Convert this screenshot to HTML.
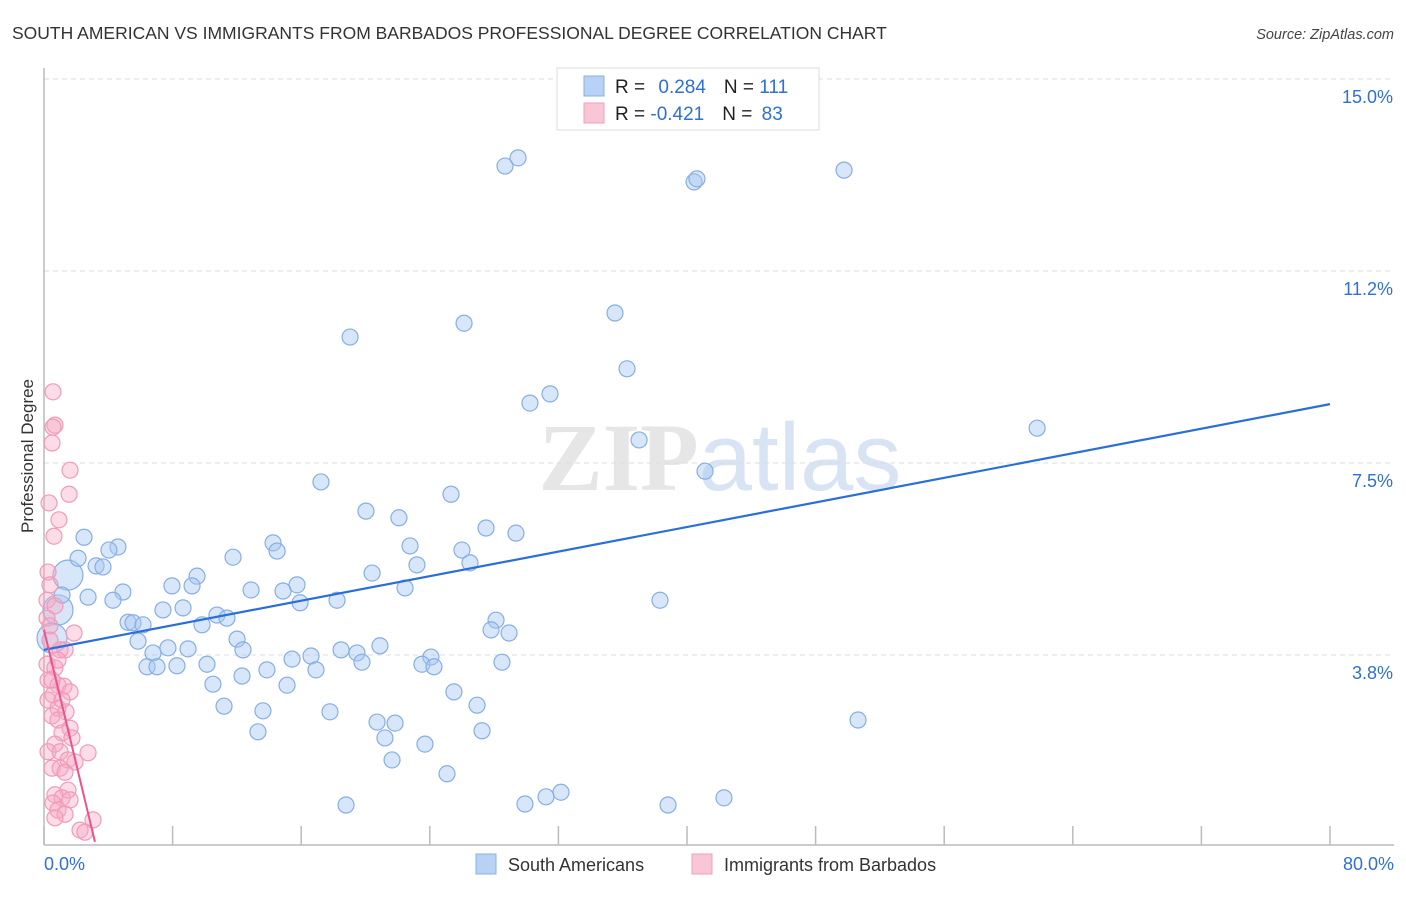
<!DOCTYPE html>
<html><head><meta charset="utf-8"><style>
body{margin:0;background:#fff;font-family:"Liberation Sans",sans-serif;}
svg text{font-family:"Liberation Sans",sans-serif;}
</style></head><body>
<svg id="chart" width="1406" height="892" viewBox="0 0 1406 892" xmlns="http://www.w3.org/2000/svg">
<text x="12" y="39" font-size="17.5" fill="#333">SOUTH AMERICAN VS IMMIGRANTS FROM BARBADOS PROFESSIONAL DEGREE CORRELATION CHART</text>
<text x="1394" y="39" font-size="14.5" fill="#444" text-anchor="end" font-style="italic">Source: ZipAtlas.com</text>
<text x="720" y="490" font-size="96" text-anchor="middle" fill="#e6e6e6"><tspan font-family="Liberation Serif" font-weight="bold">ZIP</tspan><tspan fill="#d8e4f4">atlas</tspan></text>
<g id="grid"></g>
<g id="axes"></g>
<g id="pts"></g>
<g id="trends"></g>
<text transform="translate(33,456) rotate(-90)" font-size="17" fill="#333" text-anchor="middle">Professional Degree</text>
<g>
<rect x="557" y="68" width="262" height="62" fill="#fff" stroke="#ddd"/>
<rect x="584" y="76" width="20" height="20" fill="#b8d2f5" stroke="#88b0e6"/>
<rect x="584" y="103" width="20" height="20" fill="#f9c6d6" stroke="#f0a0bb"/>
<text x="615" y="93" font-size="19" fill="#222">R = <tspan fill="#2f6fd6" dx="8">0.284</tspan><tspan dx="18" fill="#222">N = </tspan><tspan fill="#2f6fd6">111</tspan></text>
<text x="615" y="120" font-size="19" fill="#222">R = <tspan fill="#2f6fd6">-0.421</tspan><tspan dx="18" fill="#222">N = </tspan><tspan fill="#2f6fd6" dx="4">83</tspan></text>
</g>
<g>
<rect x="476" y="854" width="20" height="20" fill="#b8d2f5" stroke="#88b0e6"/>
<text x="508" y="871" font-size="18" fill="#333">South Americans</text>
<rect x="692" y="854" width="20" height="20" fill="#f9c6d6" stroke="#f0a0bb"/>
<text x="724" y="871" font-size="18" fill="#333">Immigrants from Barbados</text>
</g>
</svg>
<script>
const xTickValues=[0,8,16,24,32,40,48,56,64,72,80];
const yTickValues=[3.75,7.5,11.25,15];
const yTickLabels=["3.8%","7.5%","11.2%","15.0%"];
const xEndLabels=["0.0%","80.0%"];
const southAmericans=[[28.68,13.30],[29.49,13.46],[40.44,12.99],[40.62,13.05],[49.77,13.22],[19.04,9.96],[26.13,10.23],[35.52,10.43],[36.27,9.34],[30.23,8.67],[31.48,8.85],[37.02,7.95],[61.78,8.18],[41.12,7.34],[17.23,7.13],[25.32,6.89],[20.03,6.56],[22.08,6.43],[27.50,6.23],[29.36,6.13],[2.49,6.05],[4.60,5.86],[4.04,5.80],[2.12,5.64],[14.25,5.94],[14.50,5.78],[11.76,5.66],[22.77,5.88],[26.00,5.80],[26.50,5.55],[3.24,5.49],[3.67,5.47],[9.52,5.29],[7.96,5.10],[9.21,5.10],[15.74,5.12],[14.87,5.00],[12.88,5.02],[20.41,5.35],[23.20,5.51],[22.46,5.06],[4.91,4.98],[2.74,4.88],[4.29,4.82],[1.12,4.92],[7.40,4.63],[8.65,4.67],[15.93,4.77],[18.23,4.82],[10.76,4.53],[11.38,4.47],[9.83,4.34],[5.23,4.39],[5.54,4.38],[6.16,4.34],[28.12,4.43],[27.81,4.24],[28.93,4.18],[38.32,4.82],[5.85,4.02],[7.71,3.89],[8.96,3.87],[12.01,4.06],[12.38,3.85],[6.78,3.79],[18.48,3.85],[19.47,3.79],[19.78,3.61],[20.90,3.93],[15.43,3.67],[16.61,3.73],[16.92,3.46],[10.14,3.57],[6.41,3.52],[7.03,3.52],[8.27,3.54],[13.87,3.46],[12.32,3.34],[24.07,3.71],[23.51,3.57],[24.26,3.52],[28.49,3.61],[10.51,3.18],[15.12,3.16],[25.50,3.03],[11.20,2.75],[13.62,2.66],[17.79,2.64],[26.94,2.77],[20.72,2.44],[21.84,2.42],[27.25,2.27],[13.31,2.25],[21.21,2.13],[23.70,2.01],[21.65,1.70],[25.07,1.43],[18.79,0.82],[29.92,0.84],[31.23,0.98],[32.16,1.07],[38.82,0.82],[42.30,0.96],[50.64,2.48]];
const southAmericansLarge=[[0.87,4.63],[1.49,5.31],[0.50,4.08]];
const barbados=[[0.56,8.89],[0.68,8.24],[0.56,8.20],[0.50,7.89],[1.62,7.36],[1.56,6.89],[0.31,6.72],[0.93,6.39],[0.62,6.07],[0.25,5.37],[0.37,5.12],[0.19,4.82],[0.68,4.71],[0.19,4.47],[1.87,4.18],[0.37,4.04],[1.00,3.85],[1.31,3.85],[0.19,3.57],[0.68,3.50],[0.25,3.26],[0.87,3.16],[1.24,3.14],[1.62,3.03],[0.56,2.97],[0.25,2.87],[0.87,2.71],[1.37,2.64],[0.50,2.56],[0.87,2.48],[1.62,2.32],[1.12,2.23],[1.74,2.13],[0.68,2.01],[0.25,1.86],[1.00,1.86],[2.74,1.84],[1.49,1.70],[1.93,1.66],[0.50,1.54],[1.00,1.54],[1.31,1.46],[1.49,1.11],[0.68,1.02],[1.12,0.96],[0.56,0.86],[1.62,0.92],[0.87,0.72],[1.31,0.64],[0.68,0.57],[3.05,0.53],[2.24,0.33],[2.55,0.29],[0.50,3.26],[1.12,2.87],[0.87,3.65],[0.37,4.32]];
const blueTrend=[[0,3.85],[80,8.65]];
const pinkTrend=[[0,4.24],[3.17,0.1]];

const X0=44,X1=1330,YB=847,PXPER=51.2;
const xs=v=>X0+v/80*(X1-X0);
const ys=v=>YB-v*PXPER;
const NS="http://www.w3.org/2000/svg";
function mk(tag,attrs,parent){const e=document.createElementNS(NS,tag);for(const k in attrs)e.setAttribute(k,attrs[k]);parent.appendChild(e);return e;}
const grid=document.getElementById('grid'),axes=document.getElementById('axes'),pts=document.getElementById('pts'),tr=document.getElementById('trends');
yTickValues.forEach((v,i)=>{
 const l=mk('line',{x1:X0,x2:1394,y1:ys(v),y2:ys(v),stroke:'#ddd','stroke-dasharray':'5,4'},grid);
 
 
 const t=mk('text',{x:1393,y:ys(v)+24,'font-size':18,fill:'#2f6fd6','text-anchor':'end'},axes);
 t.textContent=yTickLabels[i];
 
 
});
const ya=mk('line',{x1:X0,x2:X0,y1:68,y2:845,stroke:'#bbb','stroke-width':1.5},axes);


const xa=mk('line',{x1:X0,x2:1394,y1:845,y2:845,stroke:'#bbb','stroke-width':1.5},axes);


xTickValues.forEach(v=>{
 const t=mk('line',{x1:xs(v),x2:xs(v),y1:826,y2:845,stroke:'#bbb','stroke-width':1.5},axes);
 
 
});
[[0,'start',44],[80,'end',1394]].forEach((a,i)=>{
 const t=mk('text',{x:a[2],y:870,'font-size':18,fill:'#2f6fd6','text-anchor':a[1]},axes);
 t.textContent=xEndLabels[i];
 
 
});
function dot(d,r,fill,stroke,name){
 const c=mk('circle',{cx:xs(d[0]),cy:ys(d[1]),r:r,fill:fill,stroke:stroke,'stroke-width':1.2},pts);
 
 
}
southAmericansLarge.forEach(d=>dot(d,15,'rgba(168,200,242,0.45)','#86aee4','point-south-american'));
southAmericans.forEach(d=>dot(d,8,'rgba(168,200,242,0.45)','#86aee4','point-south-american'));
barbados.forEach(d=>dot(d,8,'rgba(246,168,195,0.4)','#f29ab8','point-barbados'));
const bl=mk('line',{x1:xs(blueTrend[0][0]),y1:ys(blueTrend[0][1]),x2:xs(blueTrend[1][0]),y2:ys(blueTrend[1][1]),stroke:'#2a6fd8','stroke-width':2.2},tr);


const pl=mk('line',{x1:xs(pinkTrend[0][0]),y1:ys(pinkTrend[0][1]),x2:xs(pinkTrend[1][0]),y2:ys(pinkTrend[1][1]),stroke:'#e8558a','stroke-width':2},tr);


</script>
</body></html>
